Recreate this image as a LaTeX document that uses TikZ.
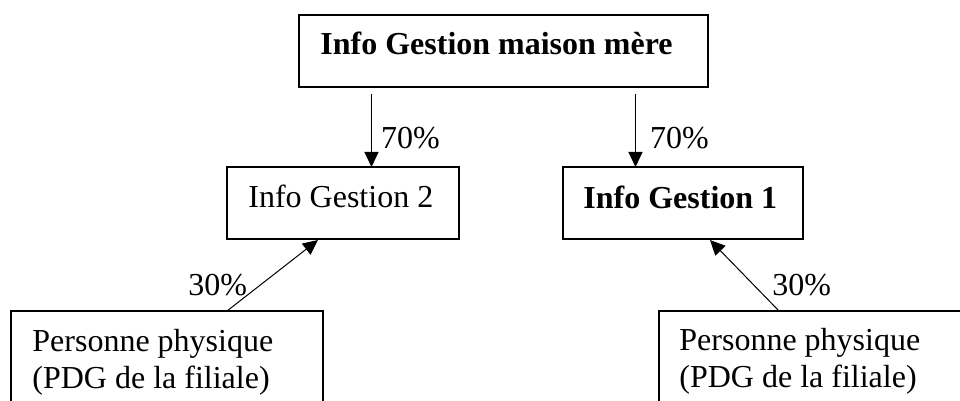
\documentclass[tikz,border=0pt]{standalone}
\usepackage{fontspec}
\setmainfont{Liberation Serif}
\usetikzlibrary{calc, arrows.meta}

\tikzset{
    boite/.style={draw, line width=0.6pt, inner sep=0pt, outer sep=0pt, anchor=north west},
    texte/.style={inner sep=0pt, anchor=base west, align=left, font=\fontsize{16}{18.5}\selectfont},
    gras/.style={texte, font=\fontsize{16}{18.5}\selectfont\bfseries},
    fleche/.style={-{Triangle[length=7.5pt, width=7pt]}, line width=0.5pt},
}

\begin{document}
\begin{tikzpicture}[x=0.5pt, y=-0.5pt]
    \useasboundingbox (0,0) rectangle (960,401);
    \clip (0,0) rectangle (960,401);
    % boites
    \node[boite, minimum width=204.5pt, minimum height=36pt] (mere) at (299, 15) {};
    \node[boite, minimum width=116pt, minimum height=36pt] (ig2) at (227, 167) {};
    \node[boite, minimum width=120pt, minimum height=36pt] (ig1) at (563, 167) {};
    \node[boite, minimum width=156pt, minimum height=60pt] (pp2) at (11, 311) {};
    \node[boite, minimum width=160pt, minimum height=60pt] (pp1) at (659, 311) {};
    % textes (base = derniere ligne)
    \node[gras] (mereT) at ($(mere.north west) + (21, 40)$) {Info Gestion maison mère};
    \node[texte] (ig2T) at ($(ig2.north west) + (21, 41)$) {Info Gestion 2};
    \node[gras] (ig1T) at ($(ig1.north west) + (20, 42)$) {Info Gestion 1};
    \node[texte] (pp2T) at ($(pp2.north west) + (21, 77)$) {Personne physique\\(PDG de la filiale)};
    \node[texte] (pp1T) at ($(pp1.north west) + (20, 76)$) {Personne physique\\(PDG de la filiale)};
    % fleches
    \coordinate (m2) at ($(mere.south) + (-132, 7)$);
    \coordinate (m1) at ($(mere.south) + (132, 7)$);
    \coordinate (p2) at ($(pp2.north west) + (216, 0)$);
    \coordinate (p1) at ($(pp1.north west) + (120, 0)$);
    \draw[fleche] (m2) -- (m2 |- ig2.north) node[texte, pos=0.75, xshift=4.5pt] {70\%};
    \draw[fleche] (m1) -- (m1 |- ig1.north) node[texte, pos=0.75, xshift=7pt] {70\%};
    \draw[fleche] (p2) -- ($(ig2.south west) + (91, 1)$) node[texte, anchor=base east, pos=0.225] {30\%};
    \draw[fleche] (p1) -- ($(ig1.south west) + (147, 1)$) node[texte, pos=0.22, xshift=4pt] {30\%};
\end{tikzpicture}
\end{document}
